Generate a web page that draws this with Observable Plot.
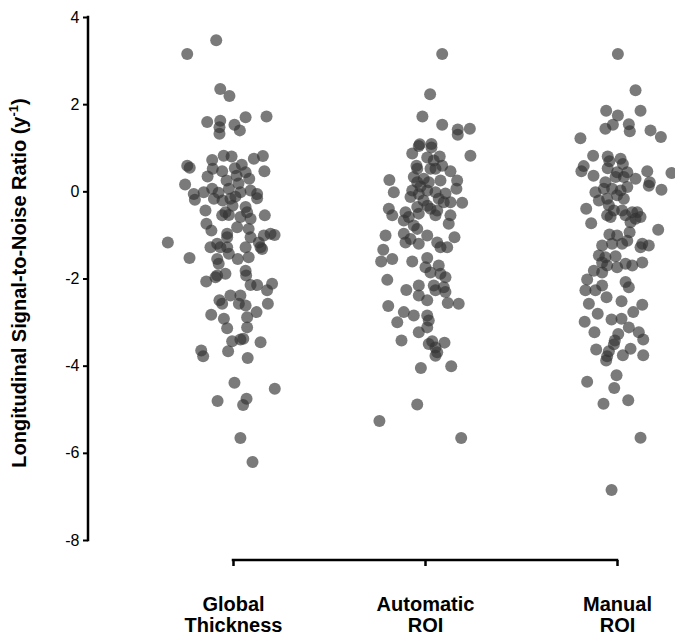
<!DOCTYPE html>
<html>
<head>
<meta charset="utf-8">
<script src="https://cdn.jsdelivr.net/npm/d3@7"></script>
<script src="https://cdn.jsdelivr.net/npm/@observablehq/plot@0.6"></script>
<style>
  html, body { margin: 0; padding: 0; background: #fff; }
  #chart svg { display: block; }
</style>
</head>
<body>
<div id="chart"></div>
<script>
// ---- Data ----
const categories = ["Global\nThickness", "Automatic\nROI", "Manual\nROI"];
const yTicks = [-8, -6, -4, -2, 0, 2, 4];
const yLabelMain = "Longitudinal Signal-to-Noise Ratio (y";
const yLabelSup = "-1";
const yLabelEnd = ")";

// Global Thickness: value (y⁻¹) and horizontal jitter (in category widths)
const globalValues = [
  3.48, 3.16, 2.36, 2.20, 1.60, 1.63, 1.48, 1.33, 1.54, 1.41, 1.71, 1.73,
  0.60, 0.55, 0.17, 0.73, 0.83, 0.81, 0.53, 0.47, 0.54, 0.62, 0.76, 0.82, 0.47, 0.35, 0.37, 0.45, 0.30,
  -0.05, -0.01, 0.07, 0.07, -0.01, 0.03, -0.05, -0.18, -0.16, -0.11, -0.16, -0.15,
  -0.43, -0.47, -0.54, -0.53, -0.35, -0.47, -0.58, -0.62, -0.54, -0.73, -0.89, -0.96, -1.04, -0.81, -0.85, -1.04, -1.00, -0.96, -0.99,
  -1.16, -1.27, -1.19, -1.27, -1.27, -1.42, -1.27, -1.16, -1.27, -1.31, -1.52, -1.54, -1.65, -1.54, -1.50,
  -1.92, -1.88, -1.96, -1.81, -1.92, -2.06, -2.14, -2.14, -2.11, -2.26, -2.38, -2.38, -2.49, -2.57, -2.57, -2.61, -2.57,
  -2.82, -2.91, -2.88, -2.76, -3.13, -3.11, -3.43, -3.39, -3.37, -3.45, -3.64, -3.77, -3.66, -3.81,
  -4.38, -4.52, -4.80, -4.75, -4.89, -5.65, -6.20,
  -0.20, -0.32, -0.02, 0.19, 0.26
];
const globalJitter = [
  -0.090, -0.241, -0.069, -0.021, -0.137, -0.069, -0.073, -0.073, 0.005, 0.033, 0.063, 0.172,
  -0.241, -0.228, -0.252, -0.111, -0.051, -0.010, -0.108, -0.059, 0.007, 0.043, 0.106, 0.153, 0.161, -0.135, 0.016, 0.063, 0.082,
  -0.207, -0.155, -0.111, -0.024, 0.036, 0.089, 0.123, -0.201, -0.102, 0.010, -0.016, 0.123,
  -0.146, -0.042, -0.059, -0.024, 0.063, 0.071, 0.036, 0.089, 0.163, -0.141, -0.115, -0.033, -0.033, 0.019, 0.079, 0.089, 0.158, 0.193, 0.214,
  -0.342, -0.120, -0.085, -0.068, -0.033, -0.024, 0.063, 0.132, 0.141, 0.149, -0.229, -0.085, -0.077, 0.022, 0.079,
  -0.085, -0.042, -0.094, 0.063, 0.066, -0.142, 0.089, 0.123, 0.201, 0.175, -0.016, 0.036, -0.073, -0.059, 0.028, 0.063, 0.179,
  -0.116, -0.050, 0.071, 0.120, -0.033, 0.071, -0.007, 0.036, 0.051, 0.141, -0.168, -0.158, -0.028, 0.074,
  0.005, 0.215, -0.083, 0.068, 0.050, 0.036, 0.099,
  -0.057, -0.005, -0.078, 0.026, -0.036
];

// Automatic ROI
const automaticValues = [
  3.16, 2.24, 1.73, 1.54, 1.43, 1.31, 1.45, 0.83,
  1.09, 1.05, 1.10, 1.02, 0.88, 0.79, 0.72, 0.81, 0.60, 0.53,
  0.27, -0.01, 0.34, 0.22, 0.53, 0.53, 0.60, 0.47, 0.26, 0.07, 0.03, 0.03, -0.01, 0.30, 0.22,
  -0.05, -0.12, -0.16, -0.24, -0.24, -0.25,
  -0.39, -0.54, -0.47, -0.58, -0.66, -0.35, -0.50, -0.39, -0.54, -0.43, -0.54, -0.73, -0.77, -0.85,
  -1.00, -0.96, -1.08, -1.16, -1.19, -1.00, -1.16, -1.27, -1.27, -1.04,
  -1.33, -1.60, -1.54, -1.60, -1.52, -1.73, -1.85, -1.69, -1.88, -1.96,
  -2.02, -2.25, -2.15, -2.38, -2.49, -2.15, -2.26, -2.19, -2.30, -2.55, -2.57,
  -2.62, -2.76, -2.84, -2.84, -2.95, -3.11, -2.99, -3.22,
  -3.41, -3.49, -3.43, -3.57, -3.68, -3.76, -3.46, -4.04, -4.00,
  -4.88, -5.26, -5.65,
  0.12, 0.26, -0.20, -0.32, -0.04
];
const automaticJitter = [
  0.087, 0.024, -0.016, 0.087, 0.168, 0.168, 0.231, 0.234,
  -0.030, -0.035, 0.031, 0.031, -0.069, 0.009, 0.043, 0.074, -0.047, -0.043,
  -0.188, -0.165, -0.061, -0.043, 0.026, 0.052, 0.087, 0.130, 0.165, 0.161, -0.069, 0.009, 0.052, -0.009, 0.017,
  -0.035, -0.078, 0.069, 0.095, 0.130, 0.191,
  -0.191, -0.173, -0.104, -0.087, -0.113, -0.043, -0.035, 0.026, 0.052, 0.061, 0.130, 0.121, -0.061, -0.043,
  -0.208, -0.113, -0.078, -0.104, -0.035, 0.009, 0.061, 0.078, 0.113, 0.151,
  -0.220, -0.231, -0.173, -0.069, 0.009, 0.000, 0.026, 0.069, 0.078, 0.104,
  -0.199, -0.100, -0.035, -0.035, 0.009, 0.043, 0.052, 0.095, 0.104, 0.116, 0.173,
  -0.194, -0.113, -0.061, 0.009, 0.017, 0.009, -0.147, -0.035,
  -0.125, 0.017, 0.035, 0.052, 0.061, 0.052, 0.099, -0.024, 0.134,
  -0.043, -0.240, 0.186,
  -0.026, 0.078, -0.010, 0.010, 0.104
];

// Manual ROI
const manualValues = [
  3.16, 2.33, 1.86, 1.75, 1.86, 1.45, 1.54, 1.55, 1.39, 1.41, 1.26, 1.23,
  0.83, 0.59, 0.47, 0.37, 0.81, 0.70, 0.54, 0.76, 0.64, 0.45, 0.34, 0.45, 0.34, 0.30, 0.47, 0.22, 0.43, 0.05,
  0.22, 0.07, -0.01, 0.11, 0.03, 0.07, -0.20, -0.16, -0.08, -0.16, 0.14,
  -0.39, -0.31, -0.43, -0.54, -0.58, -0.43, -0.54, -0.47, -0.47, -0.58, -0.62, -0.72, -0.87, -0.70,
  -0.98, -1.00, -0.93, -1.12, -1.23, -1.19, -1.19, -1.19, -1.23, -1.27,
  -1.46, -1.50, -1.48, -1.62, -1.69, -1.73, -1.65, -1.69, -1.62, -1.81, -1.85,
  -2.01, -2.07, -2.19, -2.26, -2.26, -2.15, -2.42, -2.51, -2.59, -2.57, -2.80, -2.76,
  -2.98, -2.93, -2.91, -3.11, -3.22, -3.26, -3.22, -3.39, -3.41, -3.50, -3.62, -3.66, -3.77, -3.87, -3.75, -3.60, -3.75,
  -4.21, -4.36, -4.50, -4.86, -4.78, -5.64, -6.84
];
const manualJitter = [
  0.002, 0.094, -0.059, 0.002, 0.120, -0.063, -0.024, 0.059, 0.064, 0.172, 0.226, -0.193,
  -0.127, -0.176, -0.188, -0.125, -0.051, -0.042, -0.051, 0.016, 0.028, 0.051, 0.033, -0.002, -0.010, 0.094, 0.155, 0.168, 0.281, 0.229,
  -0.063, -0.071, -0.115, 0.051, 0.016, -0.028, -0.097, -0.054, -0.002, 0.033, 0.163,
  -0.163, -0.045, -0.019, -0.054, -0.036, 0.024, 0.042, 0.077, 0.103, 0.120, 0.094, -0.137, 0.212, 0.068,
  -0.042, -0.002, 0.063, 0.051, -0.080, -0.028, 0.024, 0.129, 0.163, 0.120,
  -0.097, -0.063, -0.010, -0.080, -0.054, -0.002, 0.042, 0.077, 0.129, -0.123, -0.080,
  -0.158, 0.042, 0.059, -0.167, -0.115, -0.080, -0.057, 0.021, 0.129, -0.149, -0.103, 0.082,
  -0.171, -0.031, 0.021, 0.059, -0.120, 0.004, 0.111, 0.134, -0.014, -0.019, -0.111, -0.045, -0.054, -0.059, 0.028, 0.068, 0.134,
  -0.005, -0.158, -0.017, -0.073, 0.056, 0.120, -0.031
];

// ---- Build table ----
const groups = [
  {values: globalValues, jitter: globalJitter},
  {values: automaticValues, jitter: automaticJitter},
  {values: manualValues, jitter: manualJitter}
];
const rows = groups.flatMap((g, i) =>
  g.values.slice(0, Math.min(g.values.length, g.jitter.length))
    .map((v, j) => ({category: i, pos: i + g.jitter[j], value: v}))
);

// ---- Chart ----
const W = 675, H = 636;
const mLeft = 88, mBottom = 76;
const plot = Plot.plot({
  width: W,
  height: H,
  marginLeft: mLeft,
  marginRight: 0,
  marginTop: 17,
  marginBottom: mBottom,
  x: {domain: [-0.7552, 2.3021], axis: null},
  y: {domain: [-8, 4], range: [540, 17], axis: null},
  style: {fontFamily: "Arial, 'Liberation Sans', Helvetica, sans-serif", background: "#fff", color: "#000", overflow: "visible"},
  marks: [
    Plot.axisY(yTicks, {anchor: "left", tickSize: 5, tickPadding: 4, fontSize: 16, strokeWidth: 2, label: null, tickFormat: (d) => String(d)}),
    Plot.axisX([0, 1, 2], {anchor: "bottom", tickSize: 6, tickPadding: 30, strokeWidth: 2.5, fontSize: 20, fontWeight: "bold", lineHeight: 1.05, tickFormat: (i) => categories[i], label: null}),
    Plot.dot(rows, {x: "pos", y: "value", r: 6, fill: "#333", fillOpacity: 0.65, stroke: "none"}),
    Plot.text([yLabelMain], {frameAnchor: "left", textAnchor: "middle", dx: -69, dy: -6, rotate: -90, fontSize: 20, fontWeight: "bold", fill: "#000"})
  ]
});

// axis lines drawn from the plot's own scales
const xs = plot.scale("x"), ys = plot.scale("y");
const svg = d3.select(plot);
svg.append("line")
  .attr("x1", mLeft).attr("x2", mLeft)
  .attr("y1", ys.apply(-8)).attr("y2", ys.apply(4))
  .attr("stroke", "#000").attr("stroke-width", 2.5).attr("stroke-linecap", "square");
svg.append("line")
  .attr("x1", xs.apply(0)).attr("x2", xs.apply(2))
  .attr("y1", H - mBottom).attr("y2", H - mBottom)
  .attr("stroke", "#000").attr("stroke-width", 2.5).attr("stroke-linecap", "square");

// superscript in the y-axis title
svg.selectAll("text").each(function() {
  if (this.textContent === yLabelMain) {
    const t = d3.select(this);
    t.text(null);
    t.append("tspan").text(yLabelMain);
    t.append("tspan").attr("dy", -8).attr("font-size", 13).text(yLabelSup);
    t.append("tspan").attr("dy", 8).text(yLabelEnd);
  }
});

document.getElementById("chart").appendChild(plot);
</script>
</body>
</html>
